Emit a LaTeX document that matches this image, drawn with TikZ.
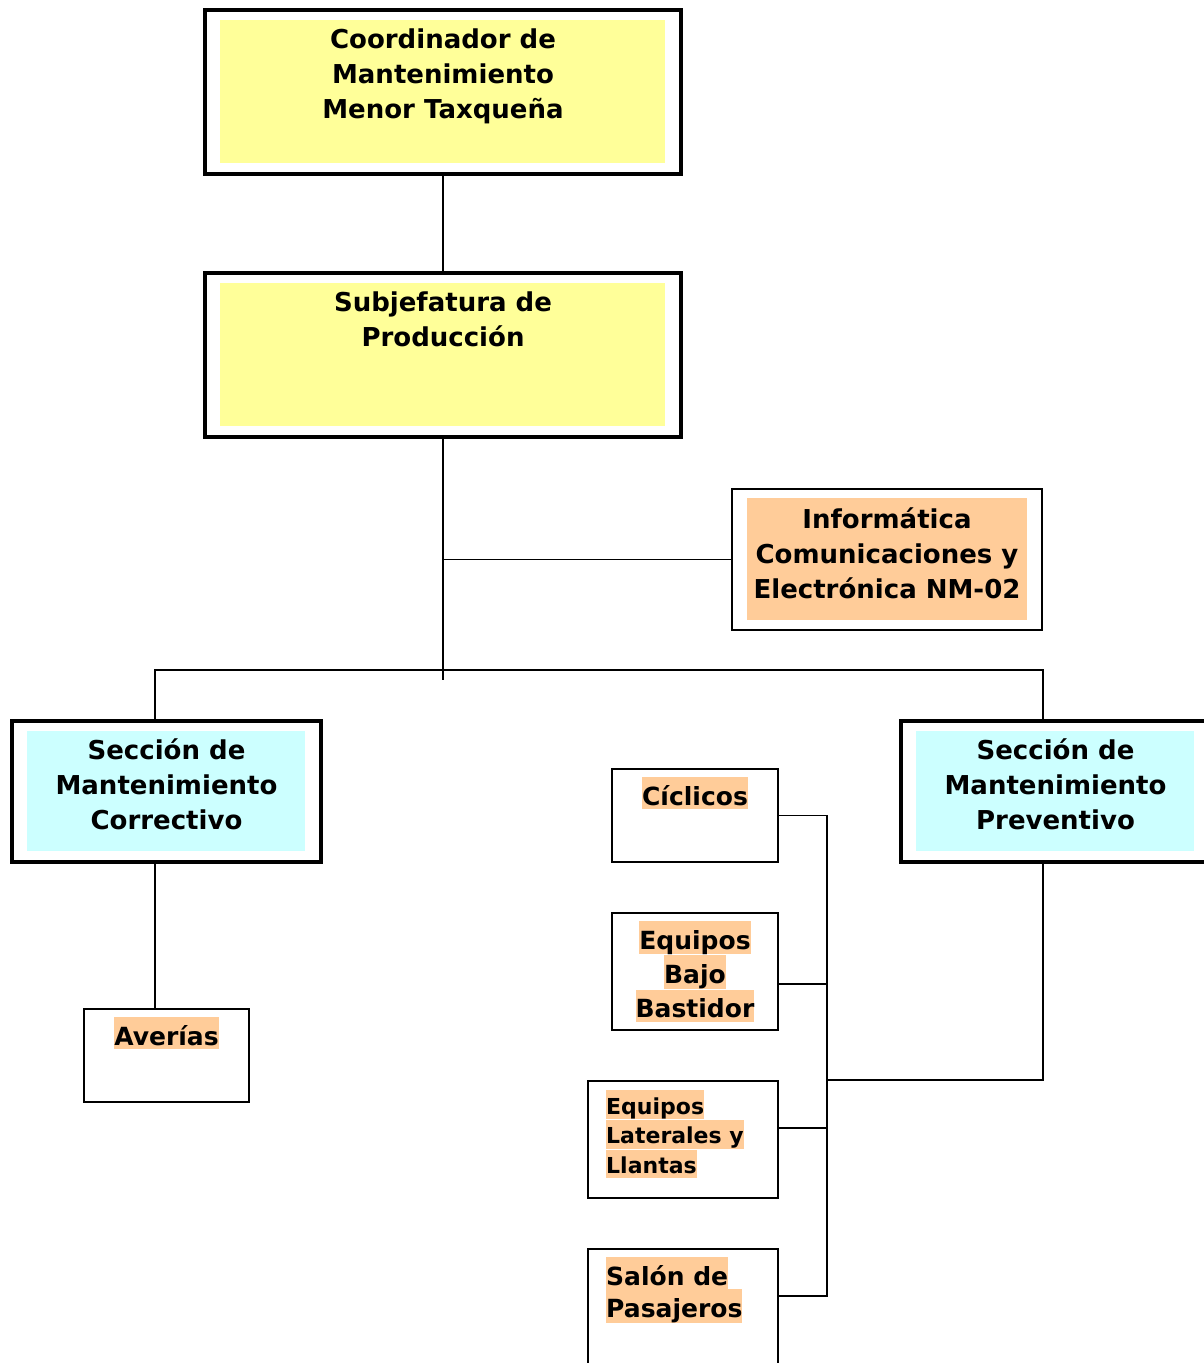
\documentclass[tikz,border=0pt]{standalone}
\usepackage{fontspec}
\setmainfont{DejaVu Sans}
\usepackage{tikz}
\usetikzlibrary{positioning}

\definecolor{amarillo}{HTML}{FFFF99}
\definecolor{durazno}{HTML}{FFCC99}
\definecolor{celeste}{HTML}{CCFFFF}

\newcommand{\resalta}[1]{{\setlength{\fboxsep}{0pt}\colorbox{durazno}{\rule[-4pt]{0pt}{32pt}#1}}}
\newcommand{\resaltachico}[1]{{\setlength{\fboxsep}{0pt}\colorbox{durazno}{\rule[-4.5pt]{0pt}{28.5pt}#1}}}

\tikzset{
  marco/.style={draw, line width=3.5pt, fill=white, inner sep=0pt,
    path picture={\fill[#1] ([shift={(15,10)}]path picture bounding box.north west)
      rectangle ([shift={(-16,-11)}]path picture bounding box.south east);}},
  marcofino/.style={draw, line width=2pt, fill=white, inner sep=0pt,
    path picture={\fill[#1] ([shift={(15,9)}]path picture bounding box.north west)
      rectangle ([shift={(-15,-10)}]path picture bounding box.south east);}},
  caja/.style={draw, line width=2pt, fill=white, inner sep=0pt},
  titulo/.style={inner sep=0pt, align=center, font=\bfseries\fontsize{26}{35}\selectfont},
  rotulo/.style={inner sep=0pt, align=center, font=\bfseries\fontsize{25}{32}\selectfont},
  linea/.style={line width=1.8pt},
}

\begin{document}
\begin{tikzpicture}[x=1pt,y=-1pt]%1px = 1pt
  \useasboundingbox (0,0) rectangle (1203,1363);

  % cajas principales
  \node[marco=amarillo, minimum width=476pt, minimum height=164pt] (coord) at (443,92) {};
  \node[titulo, below=20pt of coord.north] (coordtxt) {Coordinador de\\Mantenimiento\\Menor Taxqueña};

  \node[marco=amarillo, minimum width=476pt, minimum height=164pt] (subj) at (443,355) {};
  \node[titulo, below=20pt of subj.north] (subjtxt) {Subjefatura de\\Producción};

  \node[marcofino=durazno, minimum width=310pt, minimum height=141pt] (info) at (887,559.5) {};
  \node[titulo, below=19pt of info.north] (infotxt) {Informática\\Comunicaciones y\\Electrónica NM-02};

  \node[marco=celeste, minimum width=309pt, minimum height=141pt] (corr) at (166.5,791.5) {};
  \node[titulo, below=19pt of corr.north] (corrtxt) {Sección de\\Mantenimiento\\Correctivo};

  \node[marco=celeste, minimum width=309pt, minimum height=141pt] (prev) at (1055.5,791.5) {};
  \node[titulo, below=19pt of prev.north] (prevtxt) {Sección de\\Mantenimiento\\Preventivo};

  % cajas de talleres
  \node[caja, minimum width=165pt, minimum height=93pt] (averias) at (166.5,1055.5) {};
  \node[rotulo, below=9pt of averias.north] (averiastxt) {\resalta{Averías}};

  \node[caja, minimum width=166pt, minimum height=93pt] (ciclicos) at (695,815.5) {};
  \node[rotulo, below=9pt of ciclicos.north] (ciclicostxt) {\resalta{Cíclicos}};

  \node[caja, minimum width=166pt, minimum height=117pt] (bajo) at (695,971.5) {};
  \node[rotulo, below=9pt of bajo.north] (bajotxt) {\resalta{Equipos}\\\resalta{Bajo}\\\resalta{Bastidor}};

  \node[caja, minimum width=190pt, minimum height=117pt] (laterales) at (683,1139.5) {};
  \node[rotulo, align=left, font=\bfseries\fontsize{22}{28.5}\selectfont,
        below right=10pt and 19pt of laterales.north west] (lateralestxt)
        {\resaltachico{Equipos}\\\resaltachico{Laterales y}\\\resaltachico{Llantas}};

  \node[caja, minimum width=190pt, minimum height=117pt] (salon) at (683,1307.5) {};
  \node[rotulo, align=left, below right=9pt and 19pt of salon.north west] (salontxt)
        {\resalta{Salón de}\\\resalta{Pasajeros}};

  % puntos de ramal
  \coordinate (finbus) at (443,680);
  \coordinate (izq) at (155,670);
  \coordinate (der) at (1043,670);
  \coordinate (bus) at (827,1080);

  % conectores
  \draw[linea] (coord.south) -- (subj.north);
  \draw[linea] (subj.south) -- (finbus);
  \draw[linea] (subj.south |- info.west) -- (info.west);
  \draw[linea] (corr.north -| izq) -- (izq) -- (der) -- (prev.north -| der);
  \draw[linea] (corr.south -| izq) -- (averias.north -| izq);
  \draw[linea] (prev.south -| der) |- (bus);
  \draw[linea] (ciclicos.east) -- (ciclicos.east -| bus)
               -- ([yshift=11.5pt]salon.east -| bus) -- ([yshift=11.5pt]salon.east);
  \draw[linea] ([yshift=-12.5pt]bajo.east) -- ([yshift=-12.5pt]bajo.east -| bus);
  \draw[linea] ([yshift=11.5pt]laterales.east) -- ([yshift=11.5pt]laterales.east -| bus);
\end{tikzpicture}
\end{document}
